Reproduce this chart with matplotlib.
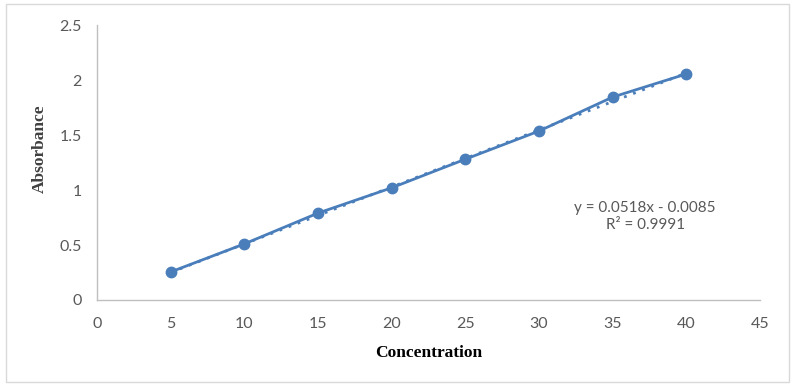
import matplotlib.pyplot as plt
import numpy as np

concentration = [5, 10, 15, 20, 25, 30, 35, 40]
absorbance = [0.255, 0.51, 0.79, 1.02, 1.28, 1.536, 1.845, 2.055]
slope = 0.0518
intercept = -0.0085
eq_text = "y = 0.0518x - 0.0085\nR² = 0.9991"

blue = "#4a7ebb"
gray = "#595959"

fig = plt.figure(figsize=(7.95, 3.86), dpi=100)
ax = fig.add_axes([0.122, 0.2228, 0.834, 0.7124])

# outer chart border
fig.patches.append(plt.Rectangle((0.008, 0.01), 0.984, 0.98, transform=fig.transFigure,
                                 fill=False, edgecolor="#d9d9d9", linewidth=1))

ax.plot(concentration, absorbance, color=blue, linewidth=2, marker="o", markersize=7.5, zorder=3)

# linear trendline
xt = np.array([concentration[0], concentration[-1]])
ax.plot(xt, slope * xt + intercept, color=blue, linewidth=2, linestyle=(0, (1, 2.5)), zorder=2)

ax.text(37.2, 0.76, eq_text, ha="center", va="center", fontsize=11, color=gray,
        family="Lato", linespacing=1.3)

ax.set_xlim(0, 45)
ax.set_ylim(0, 2.5)
ax.set_xticks(range(0, 46, 5))
ax.set_yticks([0, 0.5, 1, 1.5, 2, 2.5])
ax.set_yticklabels(["0", "0.5", "1", "1.5", "2", "2.5"])

for s in ["top", "right"]:
    ax.spines[s].set_visible(False)
for s in ["left", "bottom"]:
    ax.spines[s].set_color("#bfbfbf")
    ax.spines[s].set_linewidth(1)

ax.tick_params(length=0, labelsize=11.5, colors=gray)
ax.tick_params(axis="x", pad=12)
ax.tick_params(axis="y", pad=11)
for lbl in ax.get_xticklabels() + ax.get_yticklabels():
    lbl.set_family("Lato")

ax.set_xlabel("Concentration", family="Liberation Serif", fontweight="bold", fontsize=12.5, labelpad=10)
ax.set_ylabel("Absorbance", family="Liberation Serif", fontweight="bold", fontsize=12.5,
              color="#404040")
ax.yaxis.set_label_coords(-0.074, 0.551)

fig.savefig("out.png", dpi=100)
